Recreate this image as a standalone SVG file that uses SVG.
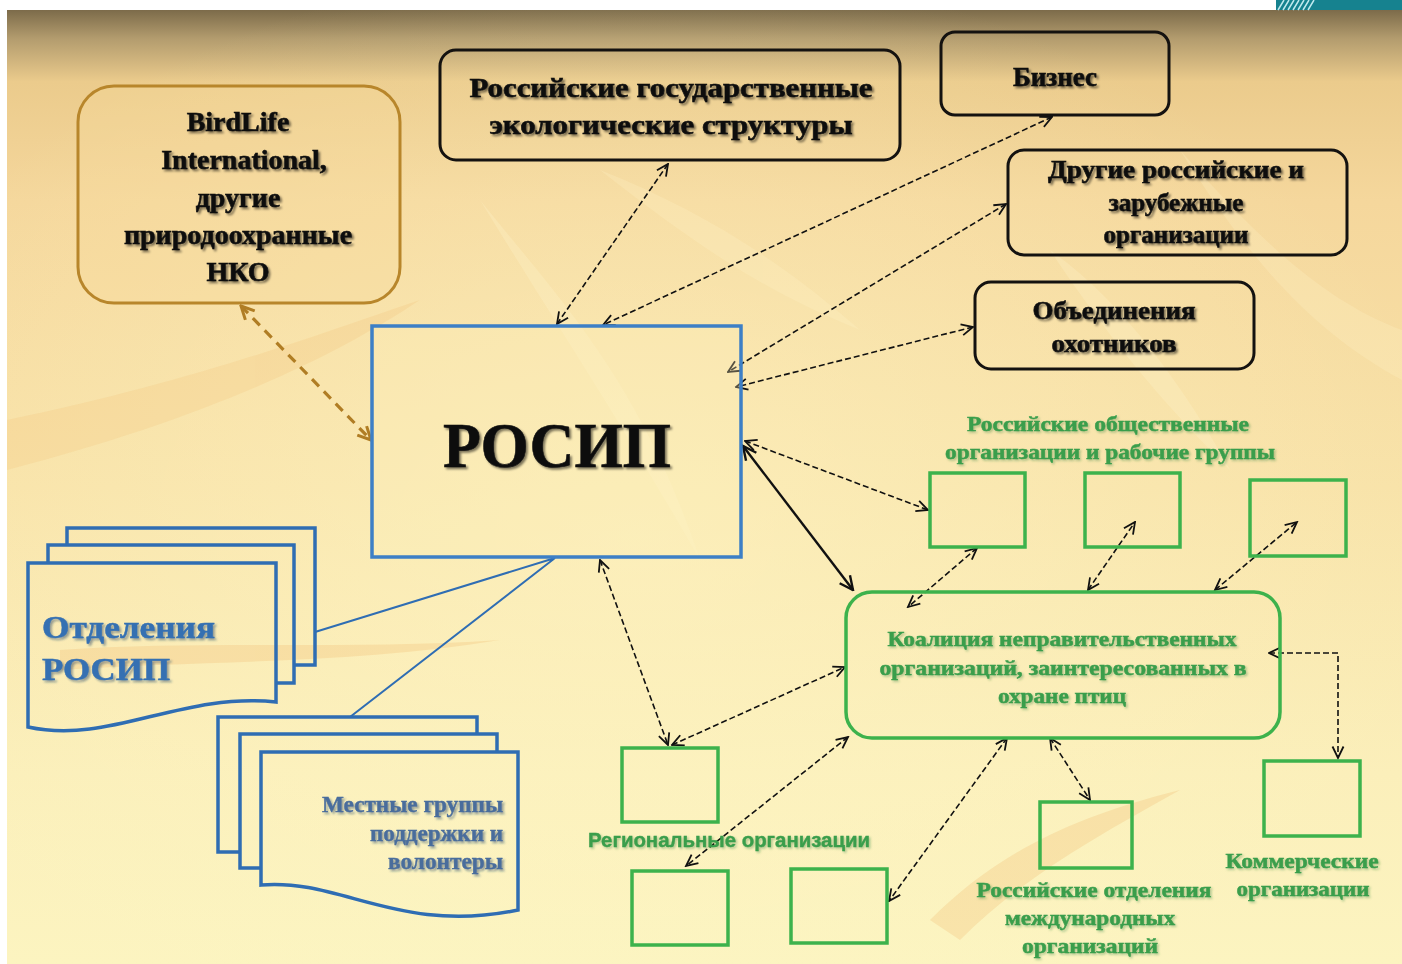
<svg xmlns="http://www.w3.org/2000/svg" width="1402" height="964" viewBox="0 0 1402 964">
<defs>
<linearGradient id="bg" x1="0" y1="0" x2="0" y2="1">
<stop offset="0" stop-color="#7c6b4a"/>
<stop offset="0.03" stop-color="#b39c6e"/>
<stop offset="0.075" stop-color="#ebcb8c"/>
<stop offset="0.2" stop-color="#f5d79c"/>
<stop offset="0.5" stop-color="#f8e2a8"/>
<stop offset="0.8" stop-color="#fbefba"/>
<stop offset="1" stop-color="#fcf4c0"/>
</linearGradient>
<radialGradient id="glow" cx="0.45" cy="0.55" r="0.6">
<stop offset="0" stop-color="#fff8c8" stop-opacity="0.5"/>
<stop offset="1" stop-color="#fff8c8" stop-opacity="0"/>
</radialGradient>
<filter id="sh" x="-10%" y="-30%" width="130%" height="170%">
<feDropShadow dx="2" dy="2" stdDeviation="1.3" flood-color="#000" flood-opacity="0.5"/>
</filter>
<filter id="shg" x="-10%" y="-30%" width="130%" height="170%">
<feDropShadow dx="1.5" dy="1.5" stdDeviation="1.2" flood-color="#1f6a2c" flood-opacity="0.35"/>
</filter>
<filter id="shb" x="-10%" y="-30%" width="130%" height="170%">
<feDropShadow dx="2" dy="2" stdDeviation="1.3" flood-color="#1c3a66" flood-opacity="0.45"/>
</filter>
<marker id="ah" viewBox="0 0 14 14" refX="12.5" refY="7" markerWidth="14" markerHeight="14" markerUnits="userSpaceOnUse" orient="auto-start-reverse">
<path d="M1,1.5 L12.5,7 L1,12.5" fill="none" stroke="#111" stroke-width="1.8"/>
</marker>
<marker id="ahs" viewBox="0 0 16 16" refX="14.5" refY="8" markerWidth="16" markerHeight="16" markerUnits="userSpaceOnUse" orient="auto-start-reverse">
<path d="M1,1.5 L14.5,8 L1,14.5" fill="none" stroke="#111" stroke-width="2.4"/>
</marker>
<marker id="ahb" viewBox="0 0 16 16" refX="14" refY="8" markerWidth="16" markerHeight="16" markerUnits="userSpaceOnUse" orient="auto-start-reverse">
<path d="M1,1.5 L14,8 L1,14.5" fill="none" stroke="#b07d24" stroke-width="3"/>
</marker>
<style>
.bk{fill:none;stroke:#141210;stroke-width:3}
.gr{fill:none;stroke:#3db24c;stroke-width:3.5}
.bl{fill:none;stroke:#2f6db3;stroke-width:3.5}
.t{font-family:"Liberation Serif","Times New Roman",serif;font-weight:bold;fill:#111;stroke:#111;stroke-width:0.6;text-anchor:middle}
.tg{font-family:"Liberation Serif","Times New Roman",serif;font-weight:bold;fill:#3a9e4c;stroke:#3a9e4c;stroke-width:0.5;text-anchor:middle}
.tb{font-family:"Liberation Serif","Times New Roman",serif;font-weight:bold;fill:#3570b2;stroke:#3570b2;stroke-width:0.5}
.d{fill:none;stroke:#111;stroke-width:1.6;stroke-dasharray:6,3;marker-start:url(#ah);marker-end:url(#ah)}
</style>
</defs>

<!-- background -->
<rect x="0" y="0" width="1402" height="964" fill="#ffffff"/>
<rect x="7" y="10" width="1395" height="954" fill="url(#bg)"/>
<rect x="7" y="10" width="1395" height="954" fill="url(#glow)"/>
<g opacity="0.25">
<path d="M7,420 C200,380 330,330 420,300 C330,360 200,420 7,470 Z" fill="#f2c27a"/>
<path d="M480,200 C560,300 640,380 700,560 C620,420 560,330 480,200 Z" fill="#fff6d0"/>
<path d="M1050,250 C1120,300 1180,380 1230,470 C1160,400 1110,340 1050,250 Z" fill="#fff6d0"/>
<path d="M930,920 C990,860 1060,820 1180,790 C1090,840 1020,880 960,940 Z" fill="#f0b568"/>
<path d="M60,650 C200,640 350,650 500,640 C350,665 200,660 60,670 Z" fill="#f0b568"/>
<path d="M1180,150 C1250,230 1320,300 1402,330 L1402,380 C1310,330 1250,260 1180,150 Z" fill="#fff3c8"/>
<path d="M600,170 C700,210 780,260 860,330 C760,290 690,240 600,170 Z" fill="#fff3c8"/>
</g>
<!-- top-right teal patch -->
<g id="corner">
<rect x="1276" y="0" width="126" height="10" fill="#16828f"/>
<path d="M1278,10 L1284,0 M1283,10 L1289,0 M1288,10 L1294,0 M1293,10 L1299,0 M1298,10 L1304,0 M1303,10 L1309,0 M1308,10 L1314,0" stroke="#bfe9ee" stroke-width="1.5"/>
</g>

<!-- connectors -->
<g id="connectors">
<path class="d" d="M668,164 L557,324"/>
<path class="d" d="M1052,117 L603,325"/>
<path class="d" d="M1006,204 L728,372"/>
<path class="d" d="M973,327 L736,387"/>
<path class="d" d="M745,441 L928,510"/>
<path d="M743,446 L853,590" fill="none" stroke="#111" stroke-width="2.4" marker-start="url(#ahs)" marker-end="url(#ahs)"/>
<path d="M241,306 L371,440" fill="none" stroke="#b07d24" stroke-width="3.2" stroke-dasharray="10,7" marker-start="url(#ahb)" marker-end="url(#ahb)"/>
<path class="d" d="M600,560 L668,745"/>
<path class="d" d="M672,745 L845,667"/>
<path class="d" d="M977,548 L908,607"/>
<path class="d" d="M1088,590 L1135,522"/>
<path class="d" d="M1215,590 L1297,522"/>
<path class="d" d="M1269,653 L1338,653 L1338,758"/>
<path class="d" d="M848,737 L686,866"/>
<path class="d" d="M1007,738 L889,901"/>
<path class="d" d="M1050,738 L1090,800"/>
<path d="M555,558 L315,632 M555,558 L350,717" fill="none" stroke="#2f6db3" stroke-width="2"/>
</g>

<g id="birdlife">
<rect x="78" y="86" width="322" height="217" rx="36" fill="#f5d99c" fill-opacity="0.35" stroke="#b8862b" stroke-width="3"/>
<g class="t" font-size="28" filter="url(#sh)">
<text x="238" y="131">BirdLife</text>
<text x="244" y="169">International,</text>
<text x="238" y="207">другие</text>
<text x="238" y="244">природоохранные</text>
<text x="238" y="281">НКО</text>
</g>
</g>

<g id="gov">
<rect x="440" y="50" width="460" height="110" rx="16" class="bk"/>
<g class="t" font-size="28" filter="url(#sh)">
<text x="671" y="97" textLength="403" lengthAdjust="spacingAndGlyphs">Российские государственные</text>
<text x="671" y="134" textLength="363" lengthAdjust="spacingAndGlyphs">экологические структуры</text>
</g>
</g>

<g id="business">
<rect x="941" y="32" width="228" height="83" rx="14" class="bk"/>
<text class="t" font-size="27" x="1055" y="86" filter="url(#sh)">Бизнес</text>
</g>

<g id="other">
<rect x="1008" y="150" width="339" height="105" rx="16" class="bk"/>
<g class="t" font-size="25" filter="url(#sh)">
<text x="1176" y="178" textLength="256" lengthAdjust="spacingAndGlyphs">Другие российские и</text>
<text x="1176" y="211">зарубежные</text>
<text x="1176" y="243">организации</text>
</g>
</g>

<g id="hunters">
<rect x="975" y="282" width="279" height="87" rx="16" class="bk"/>
<g class="t" font-size="25" filter="url(#sh)">
<text x="1114" y="319" textLength="163" lengthAdjust="spacingAndGlyphs">Объединения</text>
<text x="1114" y="352" textLength="125" lengthAdjust="spacingAndGlyphs">охотников</text>
</g>
</g>

<g id="rosip">
<rect x="372" y="326" width="369" height="231" fill="#fbedb8" fill-opacity="0.3" stroke="#3d7fc6" stroke-width="3.5"/>
<text class="t" font-size="64" x="557" y="467" textLength="228" lengthAdjust="spacingAndGlyphs" filter="url(#sh)">РОСИП</text>
</g>

<g id="public-orgs">
<g class="tg" font-size="22" filter="url(#shg)">
<text x="1108" y="431" textLength="282" lengthAdjust="spacingAndGlyphs">Российские общественные</text>
<text x="1110" y="459" textLength="330" lengthAdjust="spacingAndGlyphs">организации и рабочие группы</text>
</g>
<rect x="930" y="473" width="95" height="74" class="gr"/>
<rect x="1085" y="473" width="95" height="74" class="gr"/>
<rect x="1250" y="480" width="96" height="76" class="gr"/>
</g>

<g id="coalition">
<rect x="846" y="592" width="434" height="146" rx="26" class="gr"/>
<g class="tg" font-size="22" filter="url(#shg)">
<text x="1062" y="646" textLength="349" lengthAdjust="spacingAndGlyphs">Коалиция неправительственных</text>
<text x="1063" y="675" textLength="367" lengthAdjust="spacingAndGlyphs">организаций,  заинтересованных в</text>
<text x="1062" y="703" textLength="128" lengthAdjust="spacingAndGlyphs">охране птиц</text>
</g>
</g>

<g id="regional">
<rect x="622" y="748" width="96" height="74" class="gr"/>
<rect x="632" y="871" width="96" height="74" class="gr"/>
<rect x="791" y="869" width="96" height="74" class="gr"/>
<text x="729" y="847" font-family="'Liberation Sans Narrow','Liberation Sans',Arial,sans-serif" font-weight="bold" font-size="21" fill="#3a9e4c" stroke="#3a9e4c" stroke-width="0.4" text-anchor="middle" textLength="282" lengthAdjust="spacingAndGlyphs" filter="url(#shg)">Региональные организации</text>
</g>

<g id="intl-branches">
<rect x="1040" y="802" width="92" height="66" class="gr"/>
<g class="tg" font-size="22" filter="url(#shg)">
<text x="1094" y="897" textLength="235" lengthAdjust="spacingAndGlyphs">Российские отделения</text>
<text x="1090" y="925" textLength="170" lengthAdjust="spacingAndGlyphs">международных</text>
<text x="1090" y="953" textLength="136" lengthAdjust="spacingAndGlyphs">организаций</text>
</g>
</g>

<g id="commercial">
<rect x="1264" y="761" width="96" height="75" class="gr"/>
<g class="tg" font-size="22" filter="url(#shg)">
<text x="1302" y="868" textLength="153" lengthAdjust="spacingAndGlyphs">Коммерческие</text>
<text x="1303" y="896" textLength="133" lengthAdjust="spacingAndGlyphs">организации</text>
</g>
</g>

<g id="branches">
<path d="M67,545 V528 H315 V665 H294" class="bl"/>
<path d="M48,563 V545 H294 V683 H276" class="bl"/>
<path d="M28,563 H276 V702 C180,692 110,745 28,727 Z" class="bl"/>
<g class="tb" font-size="32" filter="url(#shb)">
<text x="42" y="638" textLength="173" lengthAdjust="spacingAndGlyphs">Отделения</text>
<text x="42" y="680" textLength="128" lengthAdjust="spacingAndGlyphs">РОСИП</text>
</g>
</g>

<g id="local-groups">
<path d="M240,852 H218 V717 H477 V734" class="bl"/>
<path d="M261,868 H240 V734 H497 V752" class="bl"/>
<path d="M261,752 H518 V910 C400,935 340,878 261,885 Z" class="bl"/>
<g font-family="'Liberation Serif','Times New Roman',serif" font-weight="bold" font-size="23" fill="#4a6d9c" stroke="#4a6d9c" stroke-width="0.4" text-anchor="end" filter="url(#shb)">
<text x="503" y="812" textLength="181" lengthAdjust="spacingAndGlyphs">Местные группы</text>
<text x="503" y="841" textLength="133" lengthAdjust="spacingAndGlyphs">поддержки и</text>
<text x="503" y="869" textLength="115" lengthAdjust="spacingAndGlyphs">волонтеры</text>
</g>
</g>
</svg>
